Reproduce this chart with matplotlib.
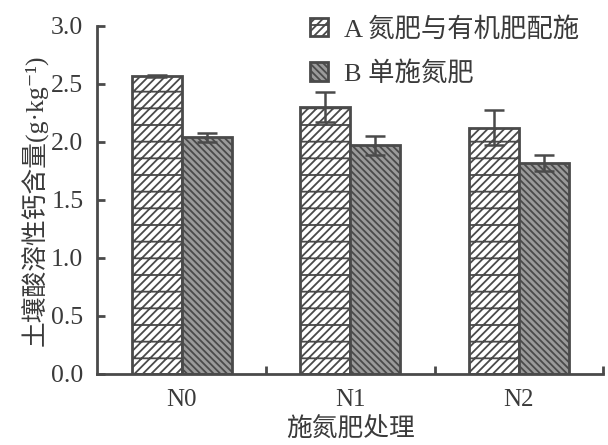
import matplotlib
matplotlib.use("Agg")
import matplotlib.pyplot as plt
import numpy as np

plt.rcParams['font.family'] = ['Liberation Serif', 'Noto Sans CJK SC', 'DejaVu Sans']
plt.rcParams['hatch.linewidth'] = 1.3

# datos
categorias = ["N0", "N1", "N2"]
serie_a = [2.57, 2.30, 2.12]
err_a = [0.01, 0.13, 0.15]
serie_b = [2.04, 1.97, 1.82]
err_b = [0.04, 0.08, 0.07]
etiquetas = ["A 氮肥与有机肥配施", "B 单施氮肥"]

GRIS = "#4a4a4a"
TEXTO = "#3a3a3a"

fig = plt.figure(figsize=(6.08, 4.45), dpi=100)
ax = fig.add_axes([0.160, 0.160, 0.832, 0.782])

x = np.arange(len(categorias))
w = 0.296

ax.bar(x - w / 2, serie_a, w, color="white", edgecolor=GRIS, hatch="////-",
       linewidth=2, label=etiquetas[0])
ax.bar(x + w / 2, serie_b, w, color="#9a9a9a", edgecolor=GRIS, hatch="\\\\\\\\\\",
       linewidth=2, label=etiquetas[1])
ax.errorbar(x - w / 2, serie_a, yerr=err_a, fmt="none", ecolor=GRIS,
            elinewidth=1.8, capsize=7, capthick=1.8)
ax.errorbar(x + w / 2, serie_b, yerr=err_b, fmt="none", ecolor=GRIS,
            elinewidth=1.8, capsize=7, capthick=1.8)

ax.set_xlim(-0.5, 2.5)
ax.set_ylim(0, 3.0)
ax.set_yticks(np.arange(0, 3.01, 0.5))
ax.set_yticklabels([f"{v:.1f}" for v in np.arange(0, 3.01, 0.5)])
ax.set_xticks(x)
ax.set_xticklabels(categorias)
ax.set_xticks([0.5, 1.5, 2.5], minor=True)

ax.tick_params(axis="x", which="major", length=0, labelsize=18, pad=11, colors=TEXTO)
ax.tick_params(axis="x", which="minor", direction="in", length=6, width=2, color=GRIS)
ax.tick_params(axis="y", direction="in", length=6, width=2, color=GRIS,
               labelsize=18.5, pad=10, labelcolor=TEXTO)

for s in ["top", "right"]:
    ax.spines[s].set_visible(False)
for s in ["left", "bottom"]:
    ax.spines[s].set_color(GRIS)
    ax.spines[s].set_linewidth(2)

ax.set_ylabel("土壤酸溶性钙含量(g·kg⁻¹)", fontsize=18.5, color=TEXTO, labelpad=2)
ax.set_xlabel("施氮肥处理", fontsize=18.5, color=TEXTO, labelpad=5)

ax.legend(loc="upper right", bbox_to_anchor=(1.0, 1.095), frameon=False,
          fontsize=19, handlelength=0.7, handleheight=0.7, handletextpad=0.6,
          labelspacing=0.75, labelcolor=TEXTO)

fig.savefig("out.png", dpi=100, facecolor="white")
